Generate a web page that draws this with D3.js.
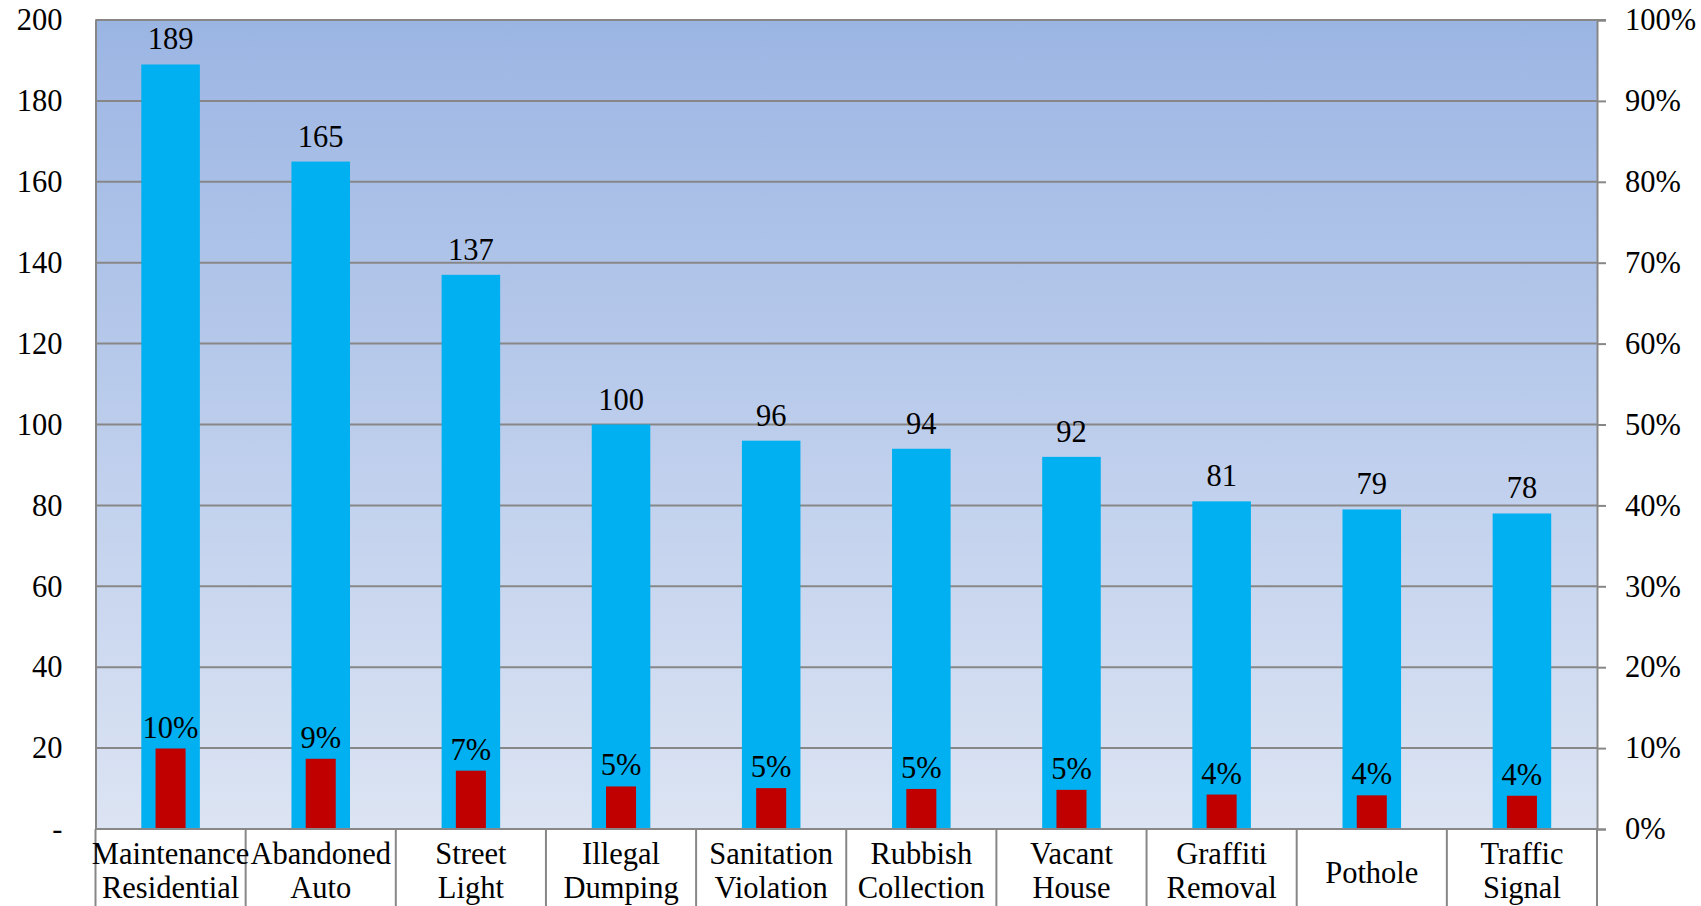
<!DOCTYPE html>
<html>
<head>
<meta charset="utf-8">
<script src="https://cdn.jsdelivr.net/npm/d3@7/dist/d3.min.js"></script>
<style>
  html, body { margin: 0; padding: 0; background: #ffffff; overflow: hidden; }
  svg { display: block; }
  text { font-family: "Liberation Serif", "Times New Roman", serif; fill: #000; }
</style>
</head>
<body>
<svg id="chart" width="1701" height="906"></svg>
<script>
// ---- data ----
const categories = [
  "Maintenance\nResidential", "Abandoned\nAuto", "Street\nLight", "Illegal\nDumping",
  "Sanitation\nViolation", "Rubbish\nCollection", "Vacant\nHouse", "Graffiti\nRemoval",
  "Pothole", "Traffic\nSignal"
];
const counts = [189, 165, 137, 100, 96, 94, 92, 81, 79, 78];
const shares = [9.95, 8.68, 7.21, 5.26, 5.05, 4.95, 4.84, 4.26, 4.16, 4.11]; // percent
const shareLabels = ["10%", "9%", "7%", "5%", "5%", "5%", "5%", "4%", "4%", "4%"];
const leftTicks = [0, 20, 40, 60, 80, 100, 120, 140, 160, 180, 200];
const rightTicks = [0, 10, 20, 30, 40, 50, 60, 70, 80, 90, 100];

// ---- layout ----
const svg = d3.select("#chart");
const L = 95.5, R = 1597, T = 20, B = 829;
const FS = 30.5;

const x = d3.scaleBand().domain(categories).range([L, R]).padding(0);
const yL = d3.scaleLinear().domain([0, 200]).range([B, T]);
const yR = d3.scaleLinear().domain([0, 100]).range([B, T]);

// gradient background
const defs = svg.append("defs");
const grad = defs.append("linearGradient").attr("id", "bg")
  .attr("x1", 0).attr("y1", 0).attr("x2", 0).attr("y2", 1);
grad.append("stop").attr("offset", "0%").attr("stop-color", "#9bb5e3");
grad.append("stop").attr("offset", "50%").attr("stop-color", "#bccdec");
grad.append("stop").attr("offset", "100%").attr("stop-color", "#dce4f3");

svg.append("rect").attr("x", L).attr("y", T).attr("width", R - L).attr("height", B - T)
  .attr("fill", "url(#bg)");

// gridlines
svg.append("g").selectAll("line").data(leftTicks).join("line")
  .attr("x1", L).attr("x2", R)
  .attr("y1", d => yL(d)).attr("y2", d => yL(d))
  .attr("stroke", "#878787").attr("stroke-width", 2);

// blue bars
const bw = x.bandwidth() * 0.39;
svg.append("g").selectAll("rect").data(categories).join("rect")
  .attr("x", d => x(d) + x.bandwidth() / 2 - bw / 2)
  .attr("width", bw)
  .attr("y", (d, i) => yL(counts[i]))
  .attr("height", (d, i) => B - yL(counts[i]))
  .attr("fill", "#00b0f0");

// red bars
const rw = x.bandwidth() * 0.2;
svg.append("g").selectAll("rect").data(categories).join("rect")
  .attr("x", d => x(d) + x.bandwidth() / 2 - rw / 2)
  .attr("width", rw)
  .attr("y", (d, i) => yR(shares[i]))
  .attr("height", (d, i) => B - yR(shares[i]))
  .attr("fill", "#c00000");

// value labels
svg.append("g").selectAll("text").data(categories).join("text")
  .attr("x", d => x(d) + x.bandwidth() / 2)
  .attr("y", (d, i) => yL(counts[i]) - 15)
  .attr("text-anchor", "middle").attr("font-size", FS)
  .text((d, i) => counts[i]);

svg.append("g").selectAll("text").data(categories).join("text")
  .attr("x", d => x(d) + x.bandwidth() / 2)
  .attr("y", (d, i) => yR(shares[i]) - 11)
  .attr("text-anchor", "middle").attr("font-size", FS)
  .text((d, i) => shareLabels[i]);

// left axis
const axL = svg.append("g").attr("transform", `translate(${L},0)`)
  .call(d3.axisLeft(yL).tickValues(leftTicks).tickSize(0).tickPadding(33)
    .tickFormat(d => d === 0 ? "-" : d));
axL.select(".domain").attr("stroke", "#878787").attr("stroke-width", 2);
axL.selectAll("text").attr("font-size", FS).attr("font-family", "Liberation Serif").attr("fill", "#000");

// right axis
const axR = svg.append("g").attr("transform", `translate(${R},0)`)
  .call(d3.axisRight(yR).tickValues(rightTicks).tickSize(9).tickPadding(19)
    .tickFormat(d => d + "%"));
axR.select(".domain").attr("stroke", "#878787").attr("stroke-width", 2);
axR.selectAll("line").attr("stroke", "#878787").attr("stroke-width", 2);
axR.selectAll("text").attr("font-size", FS).attr("font-family", "Liberation Serif").attr("fill", "#000");

// top border
svg.append("line").attr("x1", L).attr("x2", R + 9).attr("y1", T).attr("y2", T)
  .attr("stroke", "#878787").attr("stroke-width", 2);

// category axis (separators extend below baseline)
const bounds = categories.map(d => x(d)).concat([R]);
svg.append("g").selectAll("line").data(bounds).join("line")
  .attr("x1", d => d).attr("x2", d => d)
  .attr("y1", B).attr("y2", 906)
  .attr("stroke", "#878787").attr("stroke-width", 2);
svg.append("line").attr("x1", L).attr("x2", R).attr("y1", B).attr("y2", B)
  .attr("stroke", "#878787").attr("stroke-width", 2);

const catG = svg.append("g").selectAll("text").data(categories).join("text")
  .attr("text-anchor", "middle").attr("font-size", FS)
  .attr("x", d => x(d) + x.bandwidth() / 2);
catG.each(function(d) {
  const lines = d.split("\n");
  const t = d3.select(this);
  const base = lines.length === 1 ? 883 : 864;
  lines.forEach((ln, k) => {
    t.append("tspan").attr("x", x(d) + x.bandwidth() / 2).attr("y", base + k * 34).text(ln);
  });
});
</script>
</body>
</html>
